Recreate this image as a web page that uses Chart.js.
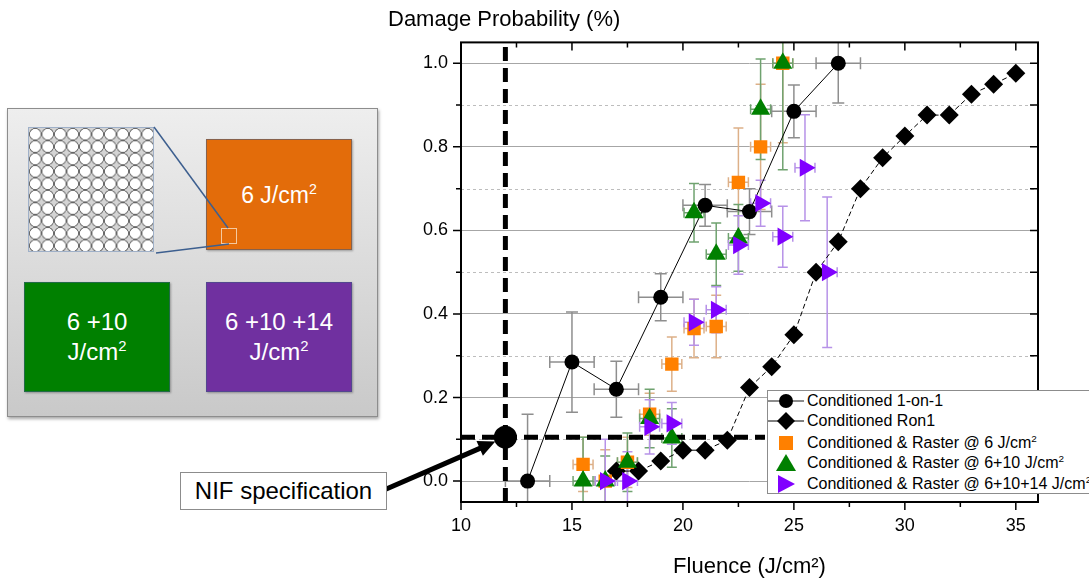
<!DOCTYPE html>
<html>
<head>
<meta charset="utf-8">
<script src="https://cdn.jsdelivr.net/npm/chart.js@4.4.0/dist/chart.umd.min.js"></script>
<style>
body { margin: 0; background: #fff; font-family: Arial, "Liberation Sans", sans-serif; }
#wrap { position: relative; width: 1089px; height: 584px; overflow: hidden; }
#chart { position: absolute; left: 0; top: 0; }
.abs { position: absolute; box-sizing: border-box; }
sup { font-size: 0.62em; vertical-align: 0.6em; line-height: 0; }
#panel { left: 7px; top: 108px; width: 371px; height: 309px; border: 1px solid #8d8d8d;
  background: linear-gradient(#eeeeee, #c9c9c9); box-shadow: 1px 2px 3px rgba(0,0,0,0.35); }
#dots { left: 28px; top: 127px; width: 126px; height: 125px; border: 1px solid #9fb0c8;
  background: radial-gradient(circle, #fff 0, #fff 5.1px, #666 5.5px, #666 6px, rgba(0,0,0,0) 6.3px), #d4d4d4;
  background-size: 12.5px 12.4px; }
.box { color: #fff; display: flex; align-items: center; justify-content: center; text-align: center;
  font-size: 24px; line-height: 30px; border: 1px solid rgba(60,90,130,0.55); box-shadow: 1px 1px 2px rgba(0,0,0,0.3); }
#orange { left: 206px; top: 139px; width: 146px; height: 111px; background: #e36c0a; font-size: 23px; }
#green { left: 24px; top: 282px; width: 146px; height: 110px; background: #008000; }
#purple { left: 206px; top: 282px; width: 146px; height: 110px; background: #7030a0; }
#spot { left: 221px; top: 228px; width: 16px; height: 16px; border: 1px solid #f4c9a0; }
#nif { left: 180px; top: 472px; width: 207px; height: 38px; background: #fff; border: 1px solid #8c8c8c;
  font-size: 24px; line-height: 36px; text-align: center; color: #000; }
#legend { left: 767px; top: 390px; width: 340px; height: 104px; background: #fff; border: 1px solid #8c8c8c;
  font-size: 16px; color: #000; }
.row { position: absolute; left: 0; height: 20px; line-height: 20px; white-space: nowrap; }
.row svg { position: absolute; left: 0; top: 0; }
.row span { position: absolute; left: 39px; top: 0; }
</style>
</head>
<body>
<div id="wrap">
  <div id="panel" class="abs"></div>
  <div id="dots" class="abs"></div>
  <div id="orange" class="abs box"><div>6 J/cm<sup>2</sup></div></div>
  <div id="spot" class="abs"></div>
  <div id="green" class="abs box"><div>6 +10<br>J/cm<sup>2</sup></div></div>
  <div id="purple" class="abs box"><div>6 +10 +14<br>J/cm<sup>2</sup></div></div>
  <svg class="abs" style="left:0;top:0" width="400" height="300">
    <line x1="154" y1="127" x2="228" y2="228" stroke="#3d5f8f" stroke-width="1.5"/>
    <line x1="156" y1="253" x2="229" y2="244" stroke="#3d5f8f" stroke-width="1.5"/>
  </svg>
  <canvas id="chart" width="1089" height="584"></canvas>
  <div id="nif" class="abs">NIF specification</div>
  <div id="legend" class="abs">
    <div class="row" style="top:0px">
      <svg width="38" height="20"><line x1="0" y1="10" x2="36" y2="10" stroke="#666" stroke-width="1.5"/><circle cx="18" cy="10" r="7" fill="#000"/></svg>
      <span>Conditioned 1-on-1</span>
    </div>
    <div class="row" style="top:20px">
      <svg width="38" height="20"><line x1="0" y1="10" x2="36" y2="10" stroke="#000" stroke-width="1"/><polygon points="18,1 27,10 18,19 9,10" fill="#000"/></svg>
      <span>Conditioned Ron1</span>
    </div>
    <div class="row" style="top:42px">
      <svg width="38" height="20"><rect x="11" y="3" width="14" height="14" fill="#ff8000"/></svg>
      <span>Conditioned &amp; Raster @ 6 J/cm<sup>2</sup></span>
    </div>
    <div class="row" style="top:62px">
      <svg width="38" height="20"><polygon points="18,1 28,18 8,18" fill="#008000"/></svg>
      <span>Conditioned &amp; Raster @ 6+10 J/cm<sup>2</sup></span>
    </div>
    <div class="row" style="top:83px">
      <svg width="38" height="20"><polygon points="10,1 27,10 10,19" fill="#8000ff"/></svg>
      <span>Conditioned &amp; Raster @ 6+10+14 J/cm<sup>2</sup></span>
    </div>
  </div>
</div>
<script>
// values

// Conditioned 1-on-1
const circX = [13, 15, 17, 19, 21, 23, 25, 27];
const circY = [0.0, 0.285, 0.22, 0.44, 0.66, 0.645, 0.885, 1.0];
const circYErr = [0.16, 0.12, 0.067, 0.056, 0.05, 0.055, 0.063, 0.095];
const circXErr = [1, 1, 1, 1, 1, 1, 1, 1];

// Conditioned Ron1
const ronX = [17, 18, 19, 20, 21, 22, 23, 24, 25, 26, 27, 28, 29, 30, 31, 32, 33, 34, 35];
const ronY = [0.024, 0.024, 0.048, 0.074, 0.074, 0.098, 0.224, 0.274, 0.35, 0.5, 0.573,
	0.7, 0.774, 0.826, 0.876, 0.876, 0.926, 0.95, 0.976];

// Conditioned & Raster @ 6 J/cm2
const sqX = [15.5, 16.5, 17.5, 18.5, 19.5, 20.5, 21.5, 22.5, 23.5, 24.5];
const sqY = [0.04, 0.0, 0.045, 0.16, 0.28, 0.365, 0.37, 0.715, 0.8, 1.0];
const sqYErr = [0.065, 0.075, 0.06, 0.05, 0.065, 0.07, 0.075, 0.13, 0.15, 0.19];
const sqXErr = [0.45, 0.45, 0.45, 0.45, 0.45, 0.45, 0.45, 0.45, 0.45, 0.45];

// Conditioned & Raster @ 6+10 J/cm2
const triX = [15.5, 16.5, 17.5, 18.5, 19.5, 20.5, 21.5, 22.5, 23.5, 24.5];
const triY = [0.0, 0.0, 0.045, 0.15, 0.103, 0.642, 0.543, 0.582, 0.89, 1.0];
const triYErr = [0.105, 0.06, 0.07, 0.07, 0.07, 0.07, 0.075, 0.08, 0.12, 0.255];
const triXErr = [0.45, 0.45, 0.45, 0.45, 0.45, 0.45, 0.45, 0.45, 0.45, 0.45];

// Conditioned & Raster @ 6+10+14 J/cm2
const rtX = [16.5, 17.5, 18.5, 19.5, 20.5, 21.5, 22.5, 23.5, 24.5, 25.5, 26.5];
const rtY = [0.0, 0.0, 0.13, 0.138, 0.38, 0.41, 0.565, 0.665, 0.585, 0.75, 0.5];
const rtYErr = [0.1, 0.07, 0.065, 0.05, 0.055, 0.055, 0.07, 0.055, 0.073, 0.127, 0.18];
const rtXErr = [0.45, 0.45, 0.45, 0.45, 0.45, 0.45, 0.45, 0.45, 0.45, 0.45, 0.45];

// NIF specification point and its guide lines
const nifX = [12];
const nifY = [0.105];
const nifVertX = [12, 12];
const nifVertY = [-0.05, 1.05];
const nifHorzX = [10, 23.7];
const nifHorzY = [0.105, 0.105];

// axes
const xTicks = [10, 15, 20, 25, 30, 35];
const xMinor = [12.5, 17.5, 22.5, 27.5, 32.5];
const yTicks = [0, 0.2, 0.4, 0.6, 0.8, 1.0];
const yMinor = [0.1, 0.3, 0.5, 0.7, 0.9];

const pts = (xs, ys) => xs.map((x, i) => ({x: x, y: ys[i]}));

Chart.defaults.font.family = 'Arial, "Liberation Sans", sans-serif';
Chart.defaults.color = "#000";

// error bars + dotted minor grid, under the points
const errorBars = {
	id: "errorBars",
	beforeDatasetsDraw(chart) {
		const {ctx, chartArea: a, scales: {x, y}} = chart;
		ctx.save();
		// minor grid
		ctx.strokeStyle = "#bdbdbd";
		ctx.lineWidth = 1;
		ctx.setLineDash([3, 3]);
		ctx.beginPath();
		for (let v of yMinor) {
			const p = Math.round(y.getPixelForValue(v)) + 0.5;
			ctx.moveTo(a.left, p);
			ctx.lineTo(a.right, p);
		}
		ctx.stroke();
		ctx.setLineDash([]);
		ctx.beginPath();
		ctx.rect(a.left, a.top, a.width, a.height);
		ctx.clip();
		for (let ds of chart.data.datasets) {
			if (!ds.errY) continue;
			ctx.strokeStyle = ds.errColor;
			ctx.lineWidth = 1.5;
			const c = ds.cap;
			ds.data.forEach((p, i) => {
				const px = x.getPixelForValue(p.x);
				const py = y.getPixelForValue(p.y);
				const y1 = y.getPixelForValue(p.y + ds.errY[i]);
				const y2 = y.getPixelForValue(p.y - ds.errY[i]);
				const x1 = x.getPixelForValue(p.x - ds.errX[i]);
				const x2 = x.getPixelForValue(p.x + ds.errX[i]);
				ctx.beginPath();
				ctx.moveTo(px, y1); ctx.lineTo(px, y2);
				ctx.moveTo(px - c, y1); ctx.lineTo(px + c, y1);
				ctx.moveTo(px - c, y2); ctx.lineTo(px + c, y2);
				ctx.moveTo(x1, py); ctx.lineTo(x2, py);
				ctx.moveTo(x1, py - c); ctx.lineTo(x1, py + c);
				ctx.moveTo(x2, py - c); ctx.lineTo(x2, py + c);
				ctx.stroke();
			});
		}
		ctx.restore();
	}
};

// box frame, tick marks and the arrow to the NIF point
const frame = {
	id: "frame",
	afterDatasetsDraw(chart) {
		const {ctx, chartArea: a, scales: {x, y}} = chart;
		ctx.save();
		ctx.strokeStyle = "#000";
		ctx.lineWidth = 1.5;
		ctx.beginPath();
		for (let v of xTicks) {
			const p = x.getPixelForValue(v);
			ctx.moveTo(p, a.bottom); ctx.lineTo(p, a.bottom + 8);
			ctx.moveTo(p, a.top); ctx.lineTo(p, a.top + 8);
		}
		for (let v of xMinor) {
			const p = x.getPixelForValue(v);
			ctx.moveTo(p, a.bottom); ctx.lineTo(p, a.bottom + 5);
			ctx.moveTo(p, a.top); ctx.lineTo(p, a.top + 5);
		}
		for (let v of yTicks) {
			const p = y.getPixelForValue(v);
			ctx.moveTo(a.left - 8, p); ctx.lineTo(a.left, p);
			ctx.moveTo(a.right - 8, p); ctx.lineTo(a.right, p);
		}
		for (let v of yMinor) {
			const p = y.getPixelForValue(v);
			ctx.moveTo(a.left - 5, p); ctx.lineTo(a.left, p);
			ctx.moveTo(a.right - 8, p); ctx.lineTo(a.right, p);
		}
		ctx.stroke();
		ctx.lineWidth = 2;
		ctx.strokeRect(a.left, a.top, a.width, a.height);

		// arrow from the label box to the spec point
		const cx = x.getPixelForValue(nifX[0]);
		const cy = y.getPixelForValue(nifY[0]);
		const sx = 384, sy = 490;
		const len = Math.hypot(cx - sx, cy - sy);
		const ux = (cx - sx) / len, uy = (cy - sy) / len;
		const tx = cx - ux * 11, ty = cy - uy * 11;
		const bx = tx - ux * 17, by = ty - uy * 17;
		ctx.strokeStyle = "#000";
		ctx.lineWidth = 5;
		ctx.beginPath();
		ctx.moveTo(sx, sy);
		ctx.lineTo(bx + ux * 2, by + uy * 2);
		ctx.stroke();
		ctx.fillStyle = "#000";
		ctx.beginPath();
		ctx.moveTo(tx, ty);
		ctx.lineTo(bx - uy * 8, by + ux * 8);
		ctx.lineTo(bx + uy * 8, by - ux * 8);
		ctx.closePath();
		ctx.fill();
		ctx.restore();
	}
};

const chart = new Chart(document.getElementById("chart"), {
	type: "scatter",
	data: {
		datasets: [
			{
				label: "Conditioned 1-on-1",
				data: pts(circX, circY),
				errY: circYErr, errX: circXErr, errColor: "#8e8e8e", cap: 6,
				showLine: true,
				borderColor: "#000",
				borderWidth: 1,
				backgroundColor: "#000",
				pointStyle: "circle",
				pointRadius: 7.5,
				pointBorderWidth: 0,
				order: 6
			},
			{
				label: "Conditioned Ron1",
				data: pts(ronX, ronY),
				showLine: true,
				borderColor: "#000",
				borderWidth: 1,
				borderDash: [5, 3],
				backgroundColor: "#000",
				pointStyle: "rectRot",
				pointRadius: 9.5,
				pointBorderWidth: 0,
				order: 5
			},
			{
				label: "Conditioned & Raster @ 6 J/cm²",
				data: pts(sqX, sqY),
				errY: sqYErr, errX: sqXErr, errColor: "#ddb088", cap: 5,
				showLine: false,
				backgroundColor: "#ff8000",
				borderColor: "#ff8000",
				pointStyle: "rect",
				pointRadius: 9.5,
				pointBorderWidth: 0,
				order: 4
			},
			{
				label: "Conditioned & Raster @ 6+10 J/cm²",
				data: pts(triX, triY),
				errY: triYErr, errX: triXErr, errColor: "#6fa26f", cap: 5,
				showLine: false,
				backgroundColor: "#008000",
				borderColor: "#008000",
				pointStyle: "triangle",
				pointRadius: 11,
				pointBorderWidth: 0,
				order: 3
			},
			{
				label: "Conditioned & Raster @ 6+10+14 J/cm²",
				data: pts(rtX, rtY),
				errY: rtYErr, errX: rtXErr, errColor: "#b792e8", cap: 5,
				showLine: false,
				backgroundColor: "#8000ff",
				borderColor: "#8000ff",
				pointStyle: "triangle",
				pointRotation: 90,
				pointRadius: 10.5,
				pointBorderWidth: 0,
				order: 2
			},
			{
				label: "NIF vertical",
				data: pts(nifVertX, nifVertY),
				showLine: true,
				borderColor: "#000",
				borderWidth: 5,
				borderDash: [14, 7],
				pointRadius: 0,
				order: 8
			},
			{
				label: "NIF horizontal",
				data: pts(nifHorzX, nifHorzY),
				showLine: true,
				borderColor: "#000",
				borderWidth: 5,
				borderDash: [14, 7],
				pointRadius: 0,
				order: 8
			},
			{
				label: "NIF specification",
				data: pts(nifX, nifY),
				showLine: false,
				backgroundColor: "#000",
				pointStyle: "circle",
				pointRadius: 11.5,
				pointBorderWidth: 0,
				order: 1
			}
		]
	},
	options: {
		responsive: false,
		animation: false,
		events: [],
		layout: { padding: { left: 388, right: 51, top: 0, bottom: 0 } },
		plugins: {
			legend: { display: false },
			tooltip: { enabled: false },
			title: {
				display: true,
				text: "Damage Probability (%)",
				align: "start",
				color: "#000",
				font: { size: 22, weight: "normal" },
				padding: { top: 7, bottom: 9 }
			}
		},
		scales: {
			x: {
				type: "linear",
				min: 10,
				max: 36,
				afterBuildTicks: s => { s.ticks = xTicks.map(v => ({value: v})); },
				afterFit: s => { s.height = 82; },
				grid: { display: false, drawTicks: false },
				border: { display: false },
				ticks: { font: { size: 18 }, padding: 13, color: "#000" },
				title: {
					display: true,
					text: "Fluence (J/cm²)",
					font: { size: 22 },
					color: "#000",
					padding: { top: 0, bottom: 4 }
				}
			},
			y: {
				type: "linear",
				min: -0.05,
				max: 1.05,
				afterBuildTicks: s => { s.ticks = yTicks.map(v => ({value: v})); },
				afterFit: s => { s.width = 73; },
				grid: { color: "#a6a6a6", lineWidth: 1, drawTicks: false },
				border: { display: false },
				ticks: {
					font: { size: 18 },
					padding: 13,
					color: "#000",
					callback: v => v.toFixed(1)
				}
			}
		}
	},
	plugins: [errorBars, frame]
});
</script>
</body>
</html>
